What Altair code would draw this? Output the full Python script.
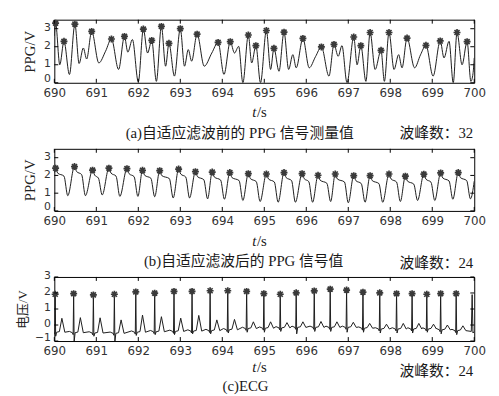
import altair as alt
import pandas as pd

# ---------------- panel (a): PPG before adaptive filtering ----------------
a_peak_t = [690.03, 690.23, 690.49, 690.89, 691.36, 691.67, 692.12, 692.32, 692.55, 692.73,
            693.00, 693.40, 693.90, 694.19, 694.62, 694.80, 695.05, 695.23, 695.47, 695.92,
            696.36, 696.66, 697.13, 697.30, 697.52, 697.78, 697.97, 698.40, 698.85, 699.19,
            699.59, 699.83]
a_peak_v = [3.31, 2.30, 3.25, 2.85, 2.43, 2.57, 2.98, 2.35, 3.13, 2.19,
            3.00, 2.70, 2.24, 2.28, 2.65, 2.06, 2.90, 1.91, 2.81, 2.46,
            1.99, 2.13, 2.54, 2.06, 2.79, 1.80, 2.79, 2.48, 2.08, 2.32,
            2.79, 2.28]
a_other_t = [690.00, 690.13, 690.36, 690.59, 690.69, 690.77, 691.06, 691.22, 691.53, 691.75,
             691.86, 692.00, 692.22, 692.43, 692.65, 692.86, 693.10, 693.19, 693.27, 693.57,
             693.75, 694.04, 694.29, 694.39, 694.49, 694.70, 694.91, 695.15, 695.35, 695.58,
             695.68, 695.76, 696.07, 696.22, 696.54, 696.76, 696.85, 696.97, 697.21, 697.42,
             697.64, 697.86, 698.09, 698.20, 698.28, 698.58, 698.72, 699.02, 699.28, 699.40,
             699.50, 699.71, 699.92, 699.97, 700.00]
a_other_v = [2.60, 1.00, 0.46, 1.07, 1.93, 1.32, 1.10, 1.75, 0.74, 1.70,
             2.40, 0.05, 1.65, 0.08, 0.92, 0.37, 0.92, 1.84, 1.20, 0.92,
             1.65, 0.46, 1.65, 2.02, 0.00, 1.10, 0.00, 0.74, 0.64, 0.74,
             1.56, 0.83, 0.83, 1.45, 0.37, 1.47, 2.06, 0.00, 1.00, 0.08,
             0.74, 0.08, 0.74, 1.56, 0.83, 0.83, 1.55, 0.37, 1.38, 2.30,
             0.00, 1.00, 0.08, 0.50, 1.38]

# ---------------- panel (b): PPG after adaptive filtering ----------------
b_peak_t = [690.03, 690.48, 690.91, 691.30, 691.73, 692.10, 692.51, 692.96, 693.36, 693.76,
            694.18, 694.62, 695.05, 695.47, 695.90, 696.28, 696.69, 697.13, 697.52, 697.97,
            698.36, 698.80, 699.20, 699.62]
b_peak_v = [2.41, 2.50, 2.30, 2.41, 2.38, 2.29, 2.27, 2.36, 2.21, 2.19,
            2.16, 2.10, 2.08, 2.16, 2.10, 2.01, 2.08, 1.99, 1.99, 2.08,
            1.96, 2.07, 2.14, 2.16]
b_shoulder_t = [690.08, 690.53, 690.96, 691.35, 691.78, 692.15, 692.56, 693.01, 693.41, 693.81,
                694.23, 694.67, 695.10, 695.52, 695.95, 696.33, 696.74, 697.18, 697.57, 698.02,
                698.41, 698.85, 699.25, 699.67]
b_shoulder_v = [2.13, 2.22, 2.02, 2.13, 2.10, 2.01, 1.99, 2.08, 1.93, 1.91,
                1.88, 1.82, 1.80, 1.88, 1.82, 1.73, 1.80, 1.71, 1.71, 1.80,
                1.68, 1.79, 1.86, 1.88]
b_plateau_t = [690.23, 690.65, 691.05, 691.47, 691.90, 692.30, 692.74, 693.13, 693.56, 693.96,
               694.40, 694.81, 695.24, 695.65, 696.06, 696.49, 696.91, 697.31, 697.73, 698.15,
               698.56, 698.97, 699.40, 699.82]
b_plateau_v = [1.96, 2.05, 1.85, 1.96, 1.93, 1.84, 1.82, 1.91, 1.76, 1.74,
               1.71, 1.65, 1.63, 1.71, 1.65, 1.56, 1.63, 1.54, 1.54, 1.63,
               1.51, 1.62, 1.69, 1.71]
b_trough_t = [690.32, 690.74, 691.14, 691.56, 691.99, 692.39, 692.83, 693.22, 693.65, 694.05,
              694.49, 694.90, 695.33, 695.74, 696.15, 696.58, 697.00, 697.40, 697.82, 698.24,
              698.65, 699.06, 699.49, 699.91]
b_trough_v = [0.86, 0.86, 0.90, 0.82, 0.82, 0.80, 0.73, 0.73, 0.68, 0.66,
              0.59, 0.53, 0.49, 0.49, 0.49, 0.53, 0.46, 0.49, 0.49, 0.53,
              0.59, 0.59, 0.66, 0.68]
b_ends_t = [690.00, 700.00]
b_ends_v = [2.15, 1.68]

# ---------------- panel (c): ECG ----------------
c_r_t = [690.02, 690.46, 690.93, 691.43, 691.94, 692.39, 692.85, 693.28, 693.71, 694.13,
         694.58, 694.99, 695.38, 695.76, 696.19, 696.57, 696.96, 697.35, 697.75, 698.15,
         698.52, 698.87, 699.20, 699.57]
c_r_v = [1.92, 1.96, 1.88, 1.92, 2.07, 1.99, 2.10, 2.10, 2.14, 2.14,
         2.10, 1.96, 1.92, 2.01, 2.13, 2.24, 2.18, 2.05, 2.01, 1.96,
         1.96, 1.92, 1.96, 1.96]
c_s_v = [-0.70, -1.05, -0.70, -1.05, -0.65, -0.60, -0.60, -0.55, -0.55, -0.50,
         -0.45, -0.45, -0.40, -0.55, -0.40, -0.40, -0.45, -0.45, -0.50, -0.50,
         -0.50, -0.45, -0.55, -0.60]
c_twave_v = [0.42, 0.46, 0.45, 0.32, 0.62, 0.52, 0.43, 0.60, 0.32, 0.35,
             0.20, 0.20, 0.15, 0.20, 0.22, 0.20, 0.17, 0.10, 0.05, 0.10,
             0.10, 0.05, 0.00, -0.05]
c_base_v = [-0.45, -0.48, -0.50, -0.52, -0.45, -0.42, -0.40, -0.38, -0.35, -0.30,
            -0.22, -0.20, -0.18, -0.15, -0.15, -0.15, -0.15, -0.20, -0.25, -0.25,
            -0.25, -0.25, -0.30, -0.35]
c_tail_t = [699.93, 699.95, 699.97, 700.00]
c_tail_v = [-0.40, 1.90, -0.50, -0.40]

x_ticks = list(range(690, 701))

# ---------------- build tables ----------------
a_line = pd.DataFrame({"t": a_peak_t + a_other_t, "v": a_peak_v + a_other_v}).sort_values("t")
a_star = pd.DataFrame({"t": a_peak_t, "v": a_peak_v})

b_line = pd.DataFrame({
    "t": b_peak_t + b_shoulder_t + b_plateau_t + b_trough_t + b_ends_t,
    "v": b_peak_v + b_shoulder_v + b_plateau_v + b_trough_v + b_ends_v,
}).sort_values("t")
b_star = pd.DataFrame({"t": b_peak_t, "v": b_peak_v})

pts = [(690.0, c_base_v[0])]
for tr, r, s, tw, b in zip(c_r_t, c_r_v, c_s_v, c_twave_v, c_base_v):
    pts += [(tr - 0.10, b + 0.08), (tr - 0.03, b), (tr - 0.012, b - 0.12), (tr, r),
            (tr + 0.012, s), (tr + 0.035, b), (tr + 0.10, b + 0.04), (tr + 0.16, tw),
            (tr + 0.23, b)]
pts = [p for p in pts if p[0] >= 690.0]
pts += list(zip(c_tail_t, c_tail_v))
c_line = pd.DataFrame(pts, columns=["t", "v"]).sort_values("t")
c_star = pd.DataFrame({"t": c_r_t, "v": c_r_v})

W = 426
STAR = "M-1,0L1,0M0,-1L0,1M-0.72,-0.72L0.72,0.72M-0.72,0.72L0.72,-0.72"
SERIF = "Liberation Serif, Noto Sans CJK SC"


def panel(line_df, star_df, H, ydom, yvals, ytitle, ytitle_size, ytitle_pad, interp, texts):
    xs = alt.Scale(domain=[690, 700], nice=False, zero=False)
    ys = alt.Scale(domain=ydom, nice=False, zero=False)
    xax = alt.Axis(values=x_ticks, format="d", title=None, ticks=False, domain=False,
                   grid=False, labelFont="DejaVu Sans", labelFontSize=12, labelColor="#333",
                   labelPadding=5, labelFlush=False)
    yax = alt.Axis(values=yvals, format="d", title=ytitle, ticks=False, domain=False, grid=False,
                   labelFont="DejaVu Sans", labelFontSize=11, labelColor="#333",
                   labelPadding=4,
                   labelOffset={"condition": {"test": f"datum.value == {ydom[0]}", "value": -4},
                                "value": -1},
                   titleFont=SERIF, titleFontSize=ytitle_size,
                   titleFontWeight="normal", titleColor="#222", titlePadding=ytitle_pad)
    X = alt.X("t:Q", scale=xs, axis=xax)
    Y = alt.Y("v:Q", scale=ys, axis=yax)

    line = alt.Chart(line_df).mark_line(color="#1c1c1c", strokeWidth=1, interpolate=interp,
                                        clip=True).encode(x=X, y=Y)
    star = alt.Chart(star_df).mark_point(shape=STAR, size=50, filled=False, color="#3a3a3a",
                                         strokeWidth=1.7, opacity=1).encode(x=X, y=Y)
    xt = alt.Chart(pd.DataFrame({"t": x_ticks}))
    yt = alt.Chart(pd.DataFrame({"v": yvals}))
    tb = xt.mark_rule(color="black", strokeWidth=1).encode(x=X, y=alt.value(H), y2=alt.value(H - 4))
    tt = xt.mark_rule(color="black", strokeWidth=1).encode(x=X, y=alt.value(0), y2=alt.value(4))
    tl = yt.mark_rule(color="black", strokeWidth=1).encode(y=Y, x=alt.value(0), x2=alt.value(4))
    tr_ = yt.mark_rule(color="black", strokeWidth=1).encode(y=Y, x=alt.value(W - 4), x2=alt.value(W))

    layers = [line, star, tb, tt, tl, tr_]
    one = pd.DataFrame({"k": [0]})
    for txt, x, y, align, size, style in texts:
        layers.append(
            alt.Chart(one).mark_text(text=txt, align=align, baseline="middle", font=SERIF,
                                     fontSize=size, fontStyle=style, color="#1a1a1a")
            .encode(x=alt.value(x), y=alt.value(y))
        )
    return alt.layer(*layers).properties(width=W, height=H)


pa = panel(a_line, a_star, 64, [0, 3.5], [0, 1, 2, 3], "PPG/V", 15, 6, "monotone", [
    ("t", 205, 94, "right", 15, "italic"),
    ("/s", 205.5, 94, "left", 15, "normal"),
    ("(a)自适应滤波前的 PPG 信号测量值", 188, 115, "center", 15, "normal"),
    ("波峰数：32", 425, 115, "right", 15, "normal"),
])
pb = panel(b_line, b_star, 63, [0, 3.5], [0, 1, 2, 3], "PPG/V", 15, 6, "monotone", [
    ("t", 205, 94, "right", 15, "italic"),
    ("/s", 205.5, 94, "left", 15, "normal"),
    ("(b)自适应滤波后的 PPG 信号值", 192, 114, "center", 15, "normal"),
    ("波峰数：24", 425, 116, "right", 15, "normal"),
])
pc = panel(c_line, c_star, 65, [-1, 3], [-1, 0, 1, 2, 3], "电压/V", 13, 5, "linear", [
    ("t", 205, 91, "right", 15, "italic"),
    ("/s", 205.5, 91, "left", 15, "normal"),
    ("波峰数：24", 425, 95, "right", 15, "normal"),
    ("(c)ECG", 194, 111, "center", 15, "normal"),
])

chart = (
    alt.vconcat(pa, pb, pc, spacing=67, bounds="flush")
    .properties(padding={"left": 8, "top": 5, "right": 5, "bottom": 5}, background="white")
    .configure_view(stroke="black", strokeWidth=1)
)

chart.save("out.html", embed_options={"renderer": "svg", "actions": False})
